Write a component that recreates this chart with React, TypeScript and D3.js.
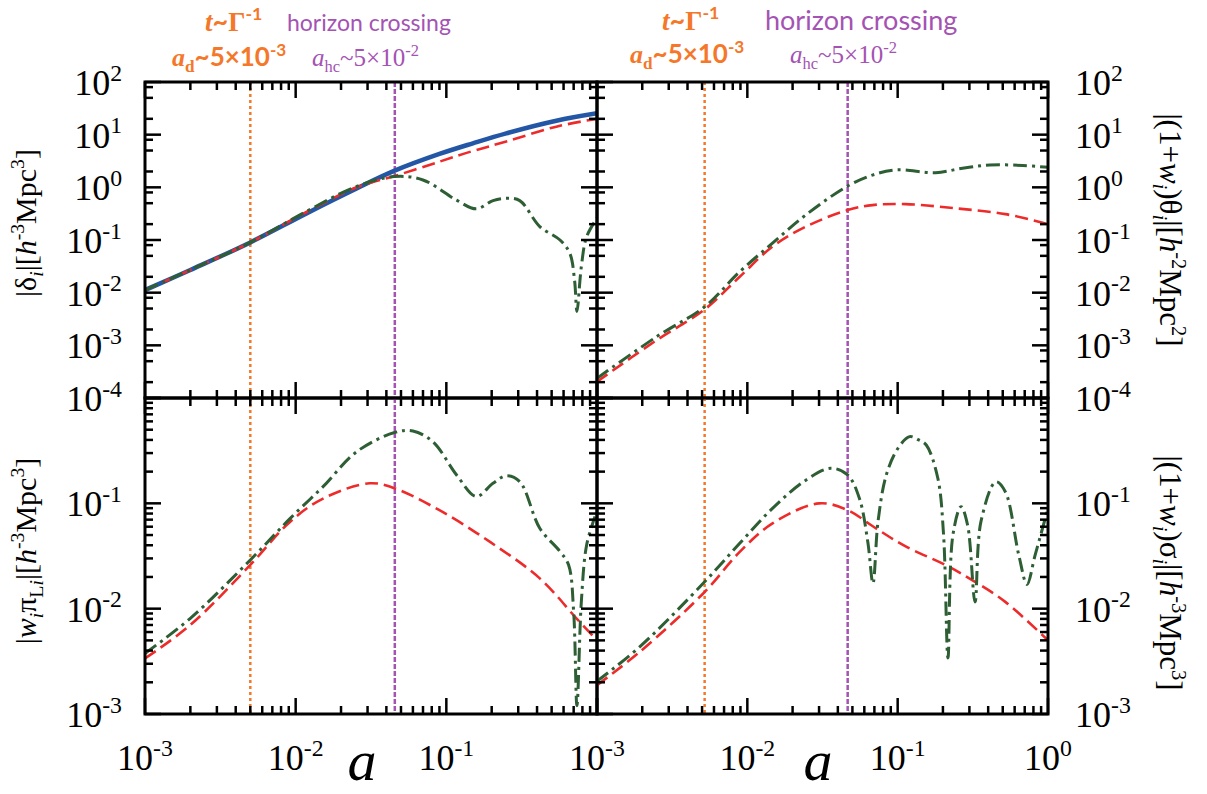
import React from 'react';
import * as d3 from 'd3';

const W = 1207;
const H = 794;
const X0 = 145, XM = 597, X1 = 1048;
const Y0 = 82, YM = 398, Y1 = 714;

// ---- top left: |delta_i| ----
const deltaA = [0.001, 0.002, 0.005, 0.0118, 0.0254, 0.0454, 0.09, 0.15, 0.25, 0.537, 1];
const deltaBlue = [0.0112, 0.027, 0.09, 0.32, 0.95, 2.07, 4.3, 6.85, 10.6, 18.4, 25.4];
const deltaRed = [0.0112, 0.027, 0.09, 0.34, 1.0, 1.64, 3.07, 4.9, 7.4, 14.2, 20];
const deltaGreenA = [0.001, 0.002, 0.005, 0.0118, 0.025, 0.045, 0.07, 0.117, 0.158, 0.204, 0.25, 0.307, 0.417, 0.568, 0.66, 0.71, 0.736, 0.787, 0.853, 1];
const deltaGreen = [0.0112, 0.027, 0.09, 0.35, 1.02, 1.6, 1.38, 0.57, 0.39, 0.56, 0.62, 0.56, 0.18, 0.1, 0.056, 0.017, 0.0044, 0.031, 0.115, 0.26];

// ---- top right: |(1+w_i) theta_i| ----
const thetaRedA = [0.001, 0.0025, 0.0052, 0.0089, 0.0147, 0.0245, 0.0465, 0.068, 0.113, 0.243, 0.52, 1];
const thetaRed = [2.04e-4, 1.26e-3, 4.8e-3, 0.02, 0.075, 0.179, 0.37, 0.46, 0.48, 0.4, 0.31, 0.2];
const thetaGreenA = [0.001, 0.0025, 0.0052, 0.0089, 0.0147, 0.0245, 0.0465, 0.068, 0.0975, 0.179, 0.27, 0.41, 0.68, 1];
const thetaGreen = [2.37e-4, 1.47e-3, 5.4e-3, 0.025, 0.087, 0.3, 1.06, 1.71, 2.14, 1.9, 2.3, 2.65, 2.6, 2.4];

// ---- bottom left: |w_i pi_Li| ----
const piRedA = [0.001, 0.002, 0.005, 0.0092, 0.0152, 0.031, 0.0453, 0.09, 0.195, 0.417, 0.73, 1];
const piRed = [3.37e-3, 7.0e-3, 0.026, 0.067, 0.111, 0.155, 0.139, 0.086, 0.043, 0.0194, 0.0081, 0.005];
const piGreenA = [0.001, 0.002, 0.005, 0.0092, 0.0152, 0.0254, 0.0453, 0.06, 0.0814, 0.117, 0.158, 0.204, 0.251, 0.308, 0.417, 0.567, 0.648, 0.7, 0.736, 0.787, 0.853, 0.97];
const piGreen = [3.76e-3, 8.1e-3, 0.029, 0.072, 0.144, 0.309, 0.47, 0.486, 0.385, 0.186, 0.116, 0.155, 0.183, 0.16, 0.058, 0.035, 0.026, 0.0093, 0.0012, 0.0116, 0.04, 0.075];

// ---- bottom right: |(1+w_i) sigma_i| ----
const sigmaRedA = [0.001, 0.00193, 0.0052, 0.0089, 0.0147, 0.03, 0.0465, 0.0715, 0.113, 0.208, 0.313, 0.52, 1];
const sigmaRed = [1.88e-3, 3.9e-3, 0.0144, 0.0346, 0.0645, 0.1, 0.086, 0.058, 0.039, 0.026, 0.0187, 0.0116, 0.005];
const sigmaGreenA = [0.001, 0.00193, 0.0052, 0.0089, 0.0147, 0.0245, 0.0359, 0.0465, 0.0557, 0.0633, 0.0685, 0.074, 0.084, 0.1, 0.12, 0.138, 0.155, 0.185, 0.202, 0.216, 0.233, 0.264, 0.292, 0.327, 0.358, 0.45, 0.52, 0.64, 0.725, 0.82, 1];
const sigmaGreen = [2.05e-3, 4.36e-3, 0.018, 0.0417, 0.0896, 0.166, 0.215, 0.186, 0.111, 0.043, 0.0174, 0.067, 0.186, 0.33, 0.43, 0.4, 0.358, 0.173, 0.05, 0.0034, 0.05, 0.093, 0.062, 0.0116, 0.067, 0.16, 0.129, 0.032, 0.017, 0.032, 0.0896];

// vertical markers: decay (a_d) and horizon crossing (a_hc)
const markLeft = [0.005, 0.0455];
const markRight = [0.0052, 0.0465];

const xExpLeft = [-3, -2, -1];
const xExpRight = [-3, -2, -1, 0];
const yExpTop = [2, 1, 0, -1, -2, -3, -4];
const yExpBottom = [-1, -2, -3];

const BLUE = '#2456a6';
const RED = '#ee2b2b';
const GREEN = '#2d5e34';
const ORANGE = '#f5782a';
const PURPLE = '#a453b3';
const SERIF = '"Liberation Serif", "DejaVu Serif", serif';
const SANS = 'Lato, "Open Sans", sans-serif';

type Seg = { t: string; s?: 'sup' | 'sub'; it?: boolean; fam?: string; bold?: boolean };

function Rich({ segs, size, ...rest }: { segs: Seg[]; size: number; [k: string]: any }) {
  let cur = 0;
  return (
    <text fontSize={size} {...rest}>
      {segs.map((g, i) => {
        const target = g.s === 'sup' ? -size * 0.4 : g.s === 'sub' ? size * 0.22 : 0;
        const dy = target - cur;
        cur = target;
        return (
          <tspan
            key={i}
            dy={dy}
            fontSize={g.s ? size * 0.66 : size}
            fontStyle={g.it ? 'italic' : undefined}
            fontFamily={g.fam}
            fontWeight={g.bold ? 'bold' : undefined}
          >
            {g.t}
          </tspan>
        );
      })}
    </text>
  );
}

type Series = { a: number[]; v: number[]; color: string; width: number; dash?: string };

type Panel = {
  id: string;
  x0: number; x1: number; y0: number; y1: number;
  yDom: [number, number];
  minor: number[];
  marks: number[];
  series: Series[];
};

const panels: Panel[] = [
  {
    id: 'tl', x0: X0, x1: XM, y0: Y0, y1: YM, yDom: [1e-4, 1e2], minor: [2, 5, 8], marks: markLeft,
    series: [
      { a: deltaA, v: deltaBlue, color: BLUE, width: 4.5 },
      { a: deltaA, v: deltaRed, color: RED, width: 2.6, dash: '13,6' },
      { a: deltaGreenA, v: deltaGreen, color: GREEN, width: 3, dash: '14,5,3,5' },
    ],
  },
  {
    id: 'tr', x0: XM, x1: X1, y0: Y0, y1: YM, yDom: [1e-4, 1e2], minor: [2, 5, 8], marks: markRight,
    series: [
      { a: thetaRedA, v: thetaRed, color: RED, width: 2.6, dash: '13,6' },
      { a: thetaGreenA, v: thetaGreen, color: GREEN, width: 3, dash: '14,5,3,5' },
    ],
  },
  {
    id: 'bl', x0: X0, x1: XM, y0: YM, y1: Y1, yDom: [1e-3, 1], minor: [2, 3, 4, 5, 6, 7, 8, 9], marks: markLeft,
    series: [
      { a: piRedA, v: piRed, color: RED, width: 2.6, dash: '13,6' },
      { a: piGreenA, v: piGreen, color: GREEN, width: 3, dash: '14,5,3,5' },
    ],
  },
  {
    id: 'br', x0: XM, x1: X1, y0: YM, y1: Y1, yDom: [1e-3, 1], minor: [2, 3, 4, 5, 6, 7, 8, 9], marks: markRight,
    series: [
      { a: sigmaRedA, v: sigmaRed, color: RED, width: 2.6, dash: '13,6' },
      { a: sigmaGreenA, v: sigmaGreen, color: GREEN, width: 3, dash: '14,5,3,5' },
    ],
  },
];

const MAJ = 16;
const MIN = 8;

function PanelView({ p }: { p: Panel }) {
  const x = d3.scaleLog().domain([1e-3, 1]).range([p.x0, p.x1]);
  const y = d3.scaleLog().domain(p.yDom).range([p.y1, p.y0]);
  const xMajor = [1e-3, 1e-2, 1e-1, 1];
  const xMinor: number[] = [];
  for (let e = -3; e < 0; e++) for (let m = 2; m <= 9; m++) xMinor.push(m * Math.pow(10, e));
  const lo = Math.round(Math.log10(p.yDom[0]));
  const hi = Math.round(Math.log10(p.yDom[1]));
  const yMajor: number[] = [];
  const yMinor: number[] = [];
  for (let e = lo; e <= hi; e++) {
    yMajor.push(Math.pow(10, e));
    if (e < hi) p.minor.forEach((m) => yMinor.push(m * Math.pow(10, e)));
  }
  const line = d3
    .line<[number, number]>()
    .x((d) => x(d[0]))
    .y((d) => y(d[1]))
    .curve(d3.curveCatmullRom.alpha(0.5));
  const tick = (x1: number, y1: number, x2: number, y2: number, k: string) => (
    <line key={k} x1={x1} y1={y1} x2={x2} y2={y2} stroke="#000" strokeWidth={2.5} />
  );
  return (
    <g>
      <defs>
        <clipPath id={`clip-${p.id}`}>
          <rect x={p.x0} y={p.y0} width={p.x1 - p.x0} height={p.y1 - p.y0} />
        </clipPath>
      </defs>
      <g clipPath={`url(#clip-${p.id})`}>
        {p.marks.map((m, i) => (
          <line
            key={i}
            x1={x(m)}
            x2={x(m)}
            y1={p.y0}
            y2={p.y1}
            stroke={i === 0 ? ORANGE : PURPLE}
            strokeWidth={2.5}
            strokeDasharray={i === 0 ? '3,3' : '5,2'}
          />
        ))}
        {p.series.map((s, i) => (
          <path
            key={i}
            d={line(s.a.map((a, j) => [a, s.v[j]] as [number, number])) || ''}
            fill="none"
            stroke={s.color}
            strokeWidth={s.width}
            strokeDasharray={s.dash}
          />
        ))}
      </g>
      {xMajor.map((v, i) => (
        <g key={`xm${i}`}>
          {tick(x(v), p.y1, x(v), p.y1 - MAJ, 'b')}
          {tick(x(v), p.y0, x(v), p.y0 + MAJ, 't')}
        </g>
      ))}
      {xMinor.map((v, i) => (
        <g key={`xn${i}`}>
          {tick(x(v), p.y1, x(v), p.y1 - MIN, 'b')}
          {tick(x(v), p.y0, x(v), p.y0 + MIN, 't')}
        </g>
      ))}
      {yMajor.map((v, i) => (
        <g key={`ym${i}`}>
          {tick(p.x0, y(v), p.x0 + MAJ, y(v), 'l')}
          {tick(p.x1, y(v), p.x1 - MAJ, y(v), 'r')}
        </g>
      ))}
      {yMinor.map((v, i) => (
        <g key={`yn${i}`}>
          {tick(p.x0, y(v), p.x0 + MIN, y(v), 'l')}
          {tick(p.x1, y(v), p.x1 - MIN, y(v), 'r')}
        </g>
      ))}
      <rect x={p.x0} y={p.y0} width={p.x1 - p.x0} height={p.y1 - p.y0} fill="none" stroke="#000" strokeWidth={3} />
    </g>
  );
}

const pow = (e: number): Seg[] => [{ t: '10' }, { t: e < 0 ? `-${-e}` : `${e}`, s: 'sup' }];

export default function App() {
  const xL = d3.scaleLog().domain([1e-3, 1]).range([X0, XM]);
  const xR = d3.scaleLog().domain([1e-3, 1]).range([XM, X1]);
  const yT = d3.scaleLog().domain([1e-4, 1e2]).range([YM, Y0]);
  const yB = d3.scaleLog().domain([1e-3, 1]).range([Y1, YM]);
  const TS = 36;
  return (
    <svg width={W} height={H} style={{ position: 'absolute', left: 0, top: 0, background: '#fff' }} fontFamily={SERIF}>
      <rect width={W} height={H} fill="#fff" />
      {panels.map((p) => (
        <PanelView key={p.id} p={p} />
      ))}

      {/* y tick labels */}
      {yExpTop.map((e) => (
        <Rich key={`lt${e}`} segs={pow(e)} size={TS} x={122} y={yT(Math.pow(10, e)) + 13} textAnchor="end" />
      ))}
      {yExpBottom.map((e) => (
        <Rich key={`lb${e}`} segs={pow(e)} size={TS} x={122} y={yB(Math.pow(10, e)) + 13} textAnchor="end" />
      ))}
      {yExpTop.map((e) => (
        <Rich key={`rt${e}`} segs={pow(e)} size={TS} x={1075} y={yT(Math.pow(10, e)) + 13} />
      ))}
      {yExpBottom.map((e) => (
        <Rich key={`rb${e}`} segs={pow(e)} size={TS} x={1075} y={yB(Math.pow(10, e)) + 13} />
      ))}

      {/* x tick labels */}
      {xExpLeft.map((e) => (
        <Rich key={`xl${e}`} segs={pow(e)} size={TS} x={xL(Math.pow(10, e))} y={770} textAnchor="middle" />
      ))}
      {xExpRight.map((e) => (
        <Rich key={`xr${e}`} segs={pow(e)} size={TS} x={xR(Math.pow(10, e))} y={770} textAnchor="middle" />
      ))}
      <text x={362} y={780} fontSize={58} fontStyle="italic" textAnchor="middle">a</text>
      <text x={818} y={780} fontSize={58} fontStyle="italic" textAnchor="middle">a</text>

      {/* axis titles */}
      <Rich
        size={30}
        textAnchor="middle"
        transform="translate(36,223) rotate(-90)"
        segs={[{ t: '|δ' }, { t: 'i', s: 'sub', it: true }, { t: '|[' }, { t: 'h', it: true }, { t: '-3', s: 'sup' }, { t: 'Mpc' }, { t: '3', s: 'sup' }, { t: ']' }]}
      />
      <Rich
        size={30}
        textAnchor="middle"
        transform="translate(36,551) rotate(-90)"
        segs={[{ t: '|' }, { t: 'w', it: true }, { t: 'i', s: 'sub', it: true }, { t: 'π' }, { t: 'L', s: 'sub' }, { t: 'i', s: 'sub', it: true }, { t: '|[' }, { t: 'h', it: true }, { t: '-3', s: 'sup' }, { t: 'Mpc' }, { t: '3', s: 'sup' }, { t: ']' }]}
      />
      <Rich
        size={31}
        textAnchor="middle"
        transform="translate(1160,230) rotate(90)"
        segs={[{ t: '|(1+' }, { t: 'w', it: true }, { t: 'i', s: 'sub', it: true }, { t: ')θ' }, { t: 'i', s: 'sub', it: true }, { t: '|[' }, { t: 'h', it: true }, { t: '-2', s: 'sup' }, { t: 'Mpc' }, { t: '2', s: 'sup' }, { t: ']' }]}
      />
      <Rich
        size={31}
        textAnchor="middle"
        transform="translate(1160,573) rotate(90)"
        segs={[{ t: '|(1+' }, { t: 'w', it: true }, { t: 'i', s: 'sub', it: true }, { t: ')σ' }, { t: 'i', s: 'sub', it: true }, { t: '|[' }, { t: 'h', it: true }, { t: '-3', s: 'sup' }, { t: 'Mpc' }, { t: '3', s: 'sup' }, { t: ']' }]}
      />

      {/* annotations, left */}
      <Rich
        size={27}
        x={205}
        y={31}
        fill={ORANGE}
        fontWeight="bold"
        segs={[{ t: 't', it: true }, { t: '~', fam: SANS }, { t: 'Γ' }, { t: '-1', s: 'sup', fam: SANS }]}
      />
      <text x={287} y={31} fontSize={23} fontFamily={SANS} fill={PURPLE}>horizon crossing</text>
      <Rich
        size={26}
        x={172}
        y={66}
        fill={ORANGE}
        fontWeight="bold"
        segs={[{ t: 'a', it: true }, { t: 'd', s: 'sub' }, { t: '~5×10', fam: SANS }, { t: '-3', s: 'sup', fam: SANS }]}
      />
      <Rich
        size={25}
        x={312}
        y={66}
        fill={PURPLE}
        segs={[{ t: 'a', it: true }, { t: 'hc', s: 'sub' }, { t: '~5×10' }, { t: '-2', s: 'sup' }]}
      />

      {/* annotations, right */}
      <Rich
        size={27}
        x={662}
        y={30}
        fill={ORANGE}
        fontWeight="bold"
        segs={[{ t: 't', it: true }, { t: '~', fam: SANS }, { t: 'Γ' }, { t: '-1', s: 'sup', fam: SANS }]}
      />
      <text x={765} y={30} fontSize={27} fontFamily={SANS} fill={PURPLE}>horizon crossing</text>
      <Rich
        size={26}
        x={630}
        y={63}
        fill={ORANGE}
        fontWeight="bold"
        segs={[{ t: 'a', it: true }, { t: 'd', s: 'sub' }, { t: '~5×10', fam: SANS }, { t: '-3', s: 'sup', fam: SANS }]}
      />
      <Rich
        size={25}
        x={790}
        y={63}
        fill={PURPLE}
        segs={[{ t: 'a', it: true }, { t: 'hc', s: 'sub' }, { t: '~5×10' }, { t: '-2', s: 'sup' }]}
      />
    </svg>
  );
}
